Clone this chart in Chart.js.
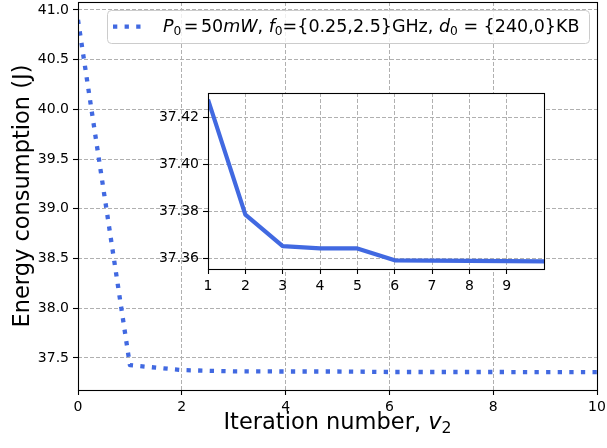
<!DOCTYPE html>
<html><head><meta charset="utf-8">
<script src="https://cdn.jsdelivr.net/npm/chart.js@4.4.0/dist/chart.umd.min.js"></script>
<style>
html,body{margin:0;padding:0;background:#fff;}
#wrap{position:relative;width:607px;height:448px;}
canvas{position:absolute;left:0;top:0;}
</style></head><body>
<div id="wrap"><canvas id="main" width="607" height="448"></canvas><canvas id="inset" width="607" height="448"></canvas></div>
<script>
// ---- data ----
const iterations = [0, 1, 2, 3, 4, 5, 6, 7, 8, 9, 10];
const energy = [40.9, 37.4277, 37.3785, 37.3651, 37.3641, 37.3641, 37.3590, 37.3589, 37.3588, 37.3587, 37.3586];
const insetIterations = iterations.slice(1);
const insetEnergy = energy.slice(1);
const mainXTicks = [0, 2, 4, 6, 8, 10];
const mainYTicks = [37.5, 38.0, 38.5, 39.0, 39.5, 40.0, 40.5, 41.0];
const insetXTicks = [1, 2, 3, 4, 5, 6, 7, 8, 9];
const insetYTicks = [37.36, 37.38, 37.40, 37.42];
const xTitle = 'Iteration number, ';
const xTitleVar = 'v';
const xTitleSub = '2';
const yTitle = 'Energy consumption (J)';
const legendSegs = [
  {t:'P', it:1}, {t:'0', sub:1}, {t:'=', padL:0.14, padR:0.14}, {t:'50'}, {t:'mW', it:1},
  {t:', '}, {t:'f', it:1}, {t:'0', sub:1}, {t:'={0.25,2.5}GHz, '},
  {t:'d', it:1}, {t:'0', sub:1}, {t:' = {240,0}KB'}
];

const FONT = '"DejaVu Sans"';
const BLUE = '#4169E1';
const GRID = '#b0b0b0';

function fontOf(s, size){ const sz = s.sub ? size*0.7 : size; return (s.it ? 'italic ' : '') + sz + 'px ' + FONT; }
function richWidth(ctx, segs, size){
  let w = 0;
  for (const s of segs){ ctx.font = fontOf(s,size); w += ctx.measureText(s.t).width + ((s.padL||0)+(s.padR||0))*size; }
  return w;
}
function drawRich(ctx, x, y, segs, size){
  ctx.textAlign = 'left'; ctx.textBaseline = 'alphabetic';
  for (const s of segs){
    ctx.font = fontOf(s,size);
    x += (s.padL||0)*size;
    const dy = s.sub ? 0.16*size : 0;
    ctx.fillText(s.t, x, y+dy);
    x += ctx.measureText(s.t).width + (s.padR||0)*size;
  }
  return x;
}

const framePlugin = {
  id: 'frame',
  afterDatasetsDraw(chart){
    const {ctx, chartArea:a} = chart;
    ctx.save();
    ctx.strokeStyle = '#000'; ctx.lineWidth = 1.1; ctx.setLineDash([]);
    const l = Math.round(a.left)+0.5, t = Math.round(a.top)+0.5, r = Math.round(a.right)+0.5, b = Math.round(a.bottom)+0.5;
    ctx.strokeRect(l, t, r-l, b-t);
    ctx.restore();
  }
};

const mainDecor = {
  id: 'mainDecor',
  afterDraw(chart){
    const ctx = chart.ctx;
    const a = chart.chartArea;
    ctx.save();
    ctx.fillStyle = '#000';
    // y title
    ctx.save();
    ctx.translate(28.5, (a.top+a.bottom)/2);
    ctx.rotate(-Math.PI/2);
    ctx.font = '22.5px ' + FONT; ctx.textAlign = 'center'; ctx.textBaseline = 'alphabetic';
    ctx.fillText(yTitle, 0, 0);
    ctx.restore();
    // x title
    const xsegs = [{t:xTitle}, {t:xTitleVar, it:1}, {t:xTitleSub, sub:1}];
    const w = richWidth(ctx, xsegs, 22.5);
    drawRich(ctx, (a.left+a.right)/2 - w/2, 429, xsegs, 22.5);
    // legend
    const size = 17.5;
    const tw = richWidth(ctx, legendSegs, size);
    const bx = 107.5, by = 10.5, bh = 33;
    const bw = Math.max(482, 163 + tw + 8 - 107.5);
    ctx.beginPath();
    ctx.roundRect(bx, by, bw, bh, 4);
    ctx.fillStyle = 'rgba(255,255,255,0.8)'; ctx.fill();
    ctx.strokeStyle = '#cccccc'; ctx.lineWidth = 1; ctx.stroke();
    ctx.beginPath();
    ctx.strokeStyle = BLUE; ctx.lineWidth = 4.3; ctx.setLineDash([4.3, 7.3]); ctx.lineCap = 'butt';
    ctx.moveTo(113, 26.7); ctx.lineTo(143, 26.7); ctx.stroke();
    ctx.setLineDash([]);
    ctx.fillStyle = '#000';
    drawRich(ctx, 163, 32, legendSegs, size);
    ctx.restore();
  }
};

const insetBg = {
  id: 'insetBg',
  beforeDraw(chart){
    const {ctx, chartArea:a} = chart;
    ctx.save(); ctx.fillStyle = '#fff';
    ctx.fillRect(a.left, a.top, a.right-a.left, a.bottom-a.top);
    ctx.restore();
  }
};

function axis(opts){
  return {
    type: 'linear',
    min: opts.min, max: opts.max,
    afterBuildTicks: s => { s.ticks = opts.ticks.map(v => ({value: v})); },
    afterFit: s => {
      if (opts.width !== undefined) s.width = opts.width;
      if (opts.height !== undefined) s.height = opts.height;
      s.paddingTop = 0; s.paddingBottom = 0; s.paddingLeft = 0; s.paddingRight = 0;
    },
    ticks: { callback: opts.fmt, font: {family: 'DejaVu Sans', size: 14}, color: '#000', padding: 4, maxRotation: 0, minRotation: 0, autoSkip: false },
    grid: { color: GRID, lineWidth: 1, drawTicks: true, tickColor: '#000', tickLength: 5, tickWidth: 1.1, tickBorderDash: [], borderDash: [4, 2] },
    border: { display: false, dash: [4, 2] },
    title: { display: false }
  };
}

new Chart(document.getElementById('main'), {
  type: 'line',
  data: { datasets: [{
    data: iterations.map((x, i) => ({x: x, y: energy[i]})),
    borderColor: BLUE, borderWidth: 4.3, borderDash: [4.3, 7.3], borderCapStyle: 'butt', borderJoinStyle: 'round',
    pointRadius: 0, fill: false, tension: 0, clip: 0
  }]},
  options: {
    responsive: false, animation: false, devicePixelRatio: 1,
    layout: { padding: {left: 0, top: 2, right: 10, bottom: 0} },
    plugins: { legend: {display: false}, tooltip: {enabled: false} },
    scales: {
      x: axis({min: 0, max: 10, ticks: mainXTicks, fmt: v => String(v), height: 58}),
      y: axis({min: 37.178, max: 41.08, ticks: mainYTicks, fmt: v => v.toFixed(1), width: 78})
    }
  },
  plugins: [framePlugin, mainDecor]
});

new Chart(document.getElementById('inset'), {
  type: 'line',
  data: { datasets: [{
    data: insetIterations.map((x, i) => ({x: x, y: insetEnergy[i]})),
    borderColor: BLUE, borderWidth: 4.2, borderCapStyle: 'butt', borderJoinStyle: 'round',
    pointRadius: 0, fill: false, tension: 0, clip: 0
  }]},
  options: {
    responsive: false, animation: false, devicePixelRatio: 1,
    layout: { padding: {left: 148, top: 93, right: 63, bottom: 149} },
    plugins: { legend: {display: false}, tooltip: {enabled: false} },
    scales: {
      x: axis({min: 1, max: 10, ticks: insetXTicks, fmt: v => String(v), height: 30}),
      y: axis({min: 37.3553, max: 37.4305, ticks: insetYTicks, fmt: v => v.toFixed(2), width: 60})
    }
  },
  plugins: [insetBg, framePlugin]
});
</script>
</body></html>
